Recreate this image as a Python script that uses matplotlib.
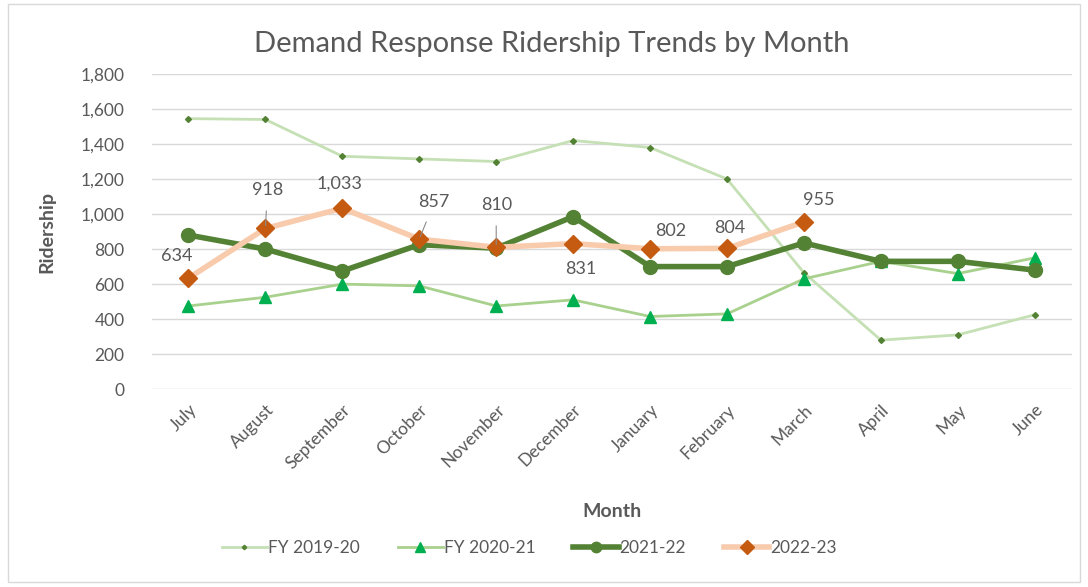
import numpy as np
import matplotlib.pyplot as plt
from matplotlib.patches import Rectangle

months = ['July', 'August', 'September', 'October', 'November', 'December',
          'January', 'February', 'March', 'April', 'May', 'June']
fy1920 = [1545, 1540, 1330, 1315, 1300, 1420, 1380, 1200, 665, 280, 310, 425]
fy2021 = [475, 525, 600, 590, 475, 510, 415, 430, 630, 730, 660, 750]
fy2122 = [880, 800, 675, 825, 805, 985, 700, 700, 835, 730, 730, 680]
fy2223 = [634, 918, 1033, 857, 810, 831, 802, 804, 955]

plt.rcParams['font.family'] = ['Lato', 'DejaVu Sans']
grey = '#595959'

fig = plt.figure(figsize=(10.88, 5.87), dpi=100)
ax = fig.add_axes([0.14, 0.337, 0.845, 0.537])
x = np.arange(len(months))

ax.plot(x, fy1920, color='#c5e0b4', lw=2, marker='D', ms=3,
        mfc='#548235', mec='#548235', label='FY 2019-20', zorder=2)
ax.plot(x, fy2021, color='#a9d18e', lw=2, marker='^', ms=9,
        mfc='#00b050', mec='#00b050', label='FY 2020-21', zorder=3)
ax.plot(x, fy2122, color='#548235', lw=4, marker='o', ms=10,
        mfc='#548235', mec='#548235', label='2021-22', zorder=4)
x23 = np.arange(len(fy2223))
ax.plot(x23, fy2223, color='#f8cbad', lw=4, marker='D', ms=9,
        mfc='#c55a11', mec='#c55a11', label='2022-23', zorder=5)

# data labels (offset in pixels), some with leader lines
offsets = [(-12, 22, False), (2, 38, True), (-3, 25, False), (15, 37, True),
           (0, 42, True), (8, -25, False), (21, 18, False), (3, 20, False),
           (15, 22, False)]
for i, (v, (dx, dy, lead)) in enumerate(zip(fy2223, offsets)):
    ap = dict(arrowstyle='-', color='#8c8c8c', lw=0.8, shrinkA=7, shrinkB=2) if lead else None
    ax.annotate(f'{v:,}', (i, v), xytext=(dx, dy), textcoords='offset pixels',
                ha='center', va='center', fontsize=13, color=grey,
                arrowprops=ap, zorder=6)

ax.set_ylim(0, 1800)
ax.set_yticks(np.arange(0, 1801, 200))
ax.set_yticklabels([f'{v:,}' for v in range(0, 1801, 200)])
ax.set_xlim(-0.47, 11.48)
ax.set_xticks(x)
ax.set_xticklabels(months, rotation=45, ha='right', rotation_mode='anchor')
ax.grid(axis='y', color='#d9d9d9', lw=1)
ax.set_axisbelow(True)
for s in ax.spines.values():
    s.set_visible(False)
ax.tick_params(length=0, colors=grey, labelsize=12.5)
ax.tick_params(axis='y', pad=20)
ax.tick_params(axis='x', pad=9)

ax.set_ylabel('Ridership', fontsize=14, fontweight='bold', color=grey, labelpad=18)
ax.set_xlabel('Month', fontsize=14, fontweight='bold', color=grey, labelpad=22)
fig.text(0.507, 0.925, 'Demand Response Ridership Trends by Month',
         ha='center', va='center', fontsize=21, color=grey)

ax.legend(loc='center', bbox_to_anchor=(0.41, -0.505), ncol=4, frameon=False,
          fontsize=12.5, labelcolor=grey, handlelength=2.6, handletextpad=0.05,
          columnspacing=2.2, markerscale=0.75)

fig.patches.append(Rectangle((0.007, 0.008), 0.986, 0.985, transform=fig.transFigure,
                             fill=False, ec='#d9d9d9', lw=1))

fig.savefig('out.png', dpi=100)
